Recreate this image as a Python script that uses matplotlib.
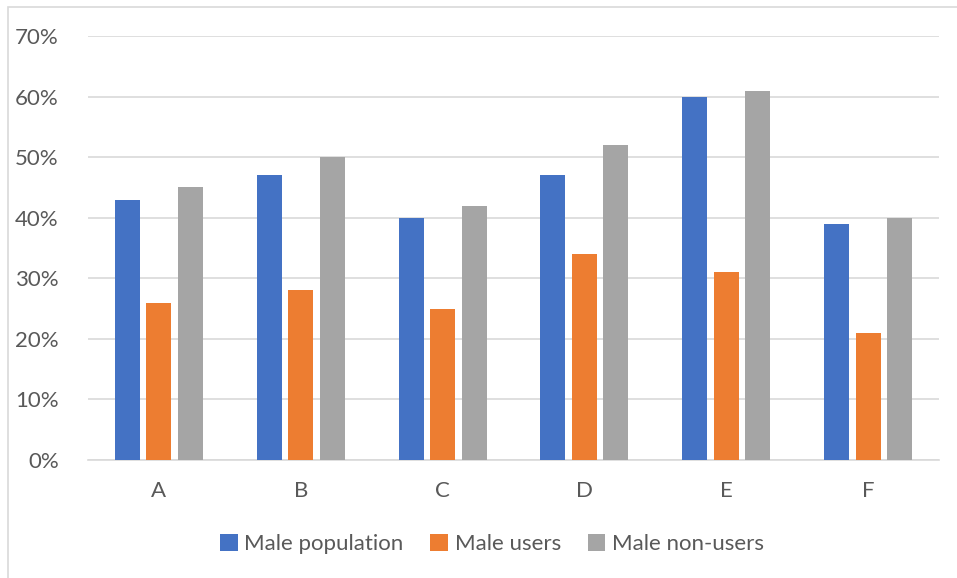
import numpy as np
import matplotlib.pyplot as plt
from matplotlib.patches import Rectangle

categories = ['A', 'B', 'C', 'D', 'E', 'F']
male_population = [43, 47, 40, 47, 60, 39]
male_users = [26, 28, 25, 34, 31, 21]
male_non_users = [45, 50, 42, 52, 61, 40]
series_names = ['Male population', 'Male users', 'Male non-users']
colors = ['#4472C4', '#ED7D31', '#A5A5A5']

plt.rcParams['font.family'] = ['Lato', 'DejaVu Sans']

fig = plt.figure(figsize=(9.57, 5.78), dpi=100)
W, H = 957, 578
ax = fig.add_axes([88 / W, 1 - 460 / H, (939 - 88) / W, (460 - 36) / H])

# chart-area border (cropped at right and bottom)
fig.patches.append(Rectangle((8 / W, -0.1), 1.2, 1 - 7 / H + 0.1, transform=fig.transFigure,
                             fill=False, edgecolor='#D9D9D9', linewidth=1.2))

x = np.arange(len(categories))
bw = 0.176
off = 0.222
for i, (vals, name, c) in enumerate(zip([male_population, male_users, male_non_users], series_names, colors)):
    ax.bar(x + (i - 1) * off, vals, width=bw, color=c, label=name, zorder=3)

ax.set_xlim(-0.5, len(categories) - 0.5)
ax.set_ylim(0, 70)
ax.set_yticks(range(0, 71, 10))
ax.set_yticklabels([f'{v}%' for v in range(0, 71, 10)])
ax.set_xticks(x)
ax.set_xticklabels(categories)
ax.yaxis.grid(True, color='#D9D9D9', linewidth=1.2, zorder=0)
for s in ['top', 'right', 'left']:
    ax.spines[s].set_visible(False)
ax.spines['bottom'].set_color('#D9D9D9')
ax.spines['bottom'].set_linewidth(1.2)
ax.tick_params(axis='both', length=0, labelsize=16, labelcolor='#595959')
ax.tick_params(axis='y', pad=21)
ax.tick_params(axis='x', pad=15)

ax.legend(loc='center', bbox_to_anchor=(492 / W, 1 - 544 / H), bbox_transform=fig.transFigure,
          ncol=3, frameon=False, fontsize=16, labelcolor='#595959',
          handlelength=0.8, handleheight=0.8, handletextpad=0.3, columnspacing=1.2)

fig.savefig('out.png', dpi=100)
